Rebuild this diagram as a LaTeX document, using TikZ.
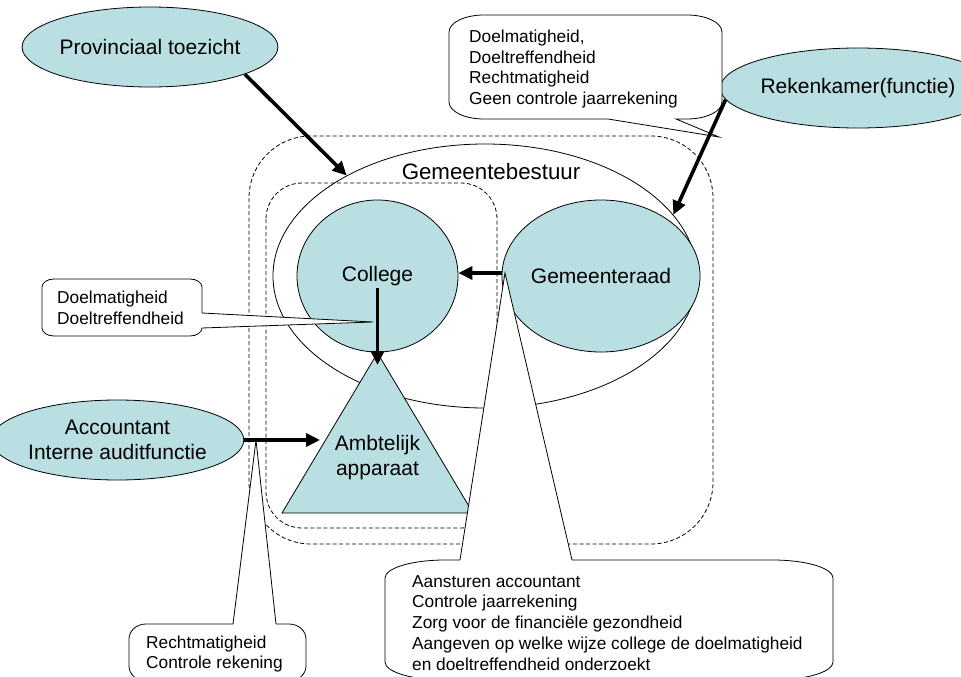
\documentclass[tikz,border=0pt]{standalone}
\usepackage{fontspec}
\setmainfont{Liberation Sans}
\usetikzlibrary{shapes.geometric,arrows.meta}
\definecolor{tealfill}{RGB}{185,223,227}
\tikzset{
  blob/.style={ellipse, draw=black, line width=0.8pt, fill=tealfill, inner sep=0pt,
    font=\fontsize{21}{25}\selectfont, align=center},
  bigtext/.style={font=\fontsize{21}{25}\selectfont, align=center, inner sep=0pt},
  bigarrow/.style={line width=3.6pt, -{Triangle[length=14pt,width=13pt]}},
  dashbox/.style={draw, line width=0.8pt, dash pattern=on 4pt off 2.5pt},
  callout/.style={draw=black, fill=white, line width=0.8pt},
  smalltext/.style={font=\fontsize{17.3}{20.8}\selectfont, align=left, inner sep=0pt, anchor=west},
}
\begin{document}
\begin{tikzpicture}[x=1pt,y=-1pt]
\useasboundingbox (0,0) rectangle (961,677);
\clip (0,0) rectangle (961,677);

% dashed boundaries
\draw[dashbox, rounded corners=62pt] (249,136) rectangle (713,544);
\draw[dashbox, rounded corners=36pt] (266,183) rectangle (497,528);

% Gemeentebestuur
\node[ellipse, draw=black, line width=0.8pt, minimum width=424pt, minimum height=264pt, inner sep=0pt] (gb) at (485,276) {};
\node[bigtext, font=\fontsize{22.3}{26}\selectfont] (gbt) at (491,172) {Gemeentebestuur};

% circles and ellipses
\node[blob, minimum width=161pt, minimum height=152pt] (col) at (377.5,276) {College};
\node[blob, minimum width=160pt, minimum height=152pt] (gr) at (601,276) {Gemeenteraad};
\node[blob, minimum width=216pt, minimum height=80pt] (prov) at (150,47) {Provinciaal toezicht};
\node[blob, minimum width=212pt, minimum height=80pt] (rk) at (858,88) {Rekenkamer(functie)};
\node[blob, minimum width=217pt, minimum height=80pt] (acc) at (117.5,440) {Accountant\\Interne auditfunctie};

% triangle
\draw[fill=tealfill, line width=0.8pt] (282,513) coordinate (tbl) -- (377.5,353) coordinate (tap) -- (473,513) coordinate (tbr) -- cycle;
\node[bigtext] (amb) at (377.5,457.5) {Ambtelijk\\apparaat};

% named coordinates (wedge tips and arrow tips)
\coordinate (tipA) at (719,137);
\coordinate (tipB) at (373,322);
\coordinate (tipC) at (256,440);
\coordinate (tipD) at (505,273);
\coordinate (triTip) at (377.5,365);
\coordinate (accTip) at (320,440);

% callout top
\path[callout] (484,15) -- (687,15) .. controls (706.3,15) and (722,22.6) .. (722,32)
  -- (722,102) .. controls (722,111.4) and (706.3,119) .. (687,119)
  -- (676,119) -- (tipA) -- (608,119)
  -- (484,119) .. controls (464.7,119) and (449,111.4) .. (449,102)
  -- (449,32) .. controls (449,22.6) and (464.7,15) .. (484,15) -- cycle;
\node[smalltext] (ta) at (469,69) {Doelmatigheid,\\Doeltreffendheid\\Rechtmatigheid\\Geen controle jaarrekening};

% callout left
\path[callout] (54,279) -- (190,279) .. controls (196.6,279) and (202,282.6) .. (202,287)
  -- (202,313) -- (tipB) -- (202,328)
  .. controls (202,332.4) and (196.6,336) .. (190,336)
  -- (54,336) .. controls (47.4,336) and (42,332.4) .. (42,328)
  -- (42,287) .. controls (42,282.6) and (47.4,279) .. (54,279) -- cycle;
\node[smalltext] (tb) at (57,308.2) {Doelmatigheid\\Doeltreffendheid};

% callout bottom left
\path[callout] (146,624) -- (233,624) -- (tipC) -- (276,624)
  -- (289,624) .. controls (298.4,624) and (306,630.7) .. (306,639)
  -- (306,666) .. controls (306,674.3) and (298.4,681) .. (289,681)
  -- (146,681) .. controls (136.6,681) and (129,674.3) .. (129,666)
  -- (129,639) .. controls (129,630.7) and (136.6,624) .. (146,624) -- cycle;
\node[smalltext] (tc) at (146,654) {Rechtmatigheid\\Controle rekening};

% callout bottom right
\path[callout] (445,560) -- (460,560) -- (tipD) -- (572,560)
  -- (773,560) .. controls (806.1,560) and (833,568.1) .. (833,578)
  -- (833,662) .. controls (833,671.9) and (806.1,680) .. (773,680)
  -- (445,680) .. controls (411.9,680) and (385,671.9) .. (385,662)
  -- (385,578) .. controls (385,568.1) and (411.9,560) .. (445,560) -- cycle;
\node[smalltext] (td) at (412,622.8) {Aansturen accountant\\Controle jaarrekening\\Zorg voor de financiële gezondheid\\Aangeven op welke wijze college de doelmatigheid\\en doeltreffendheid onderzoekt};

% arrows
\draw[bigarrow] (prov.-16) -- (gb.144);
\draw[bigarrow] (rk.185) -- (gb.18);
\draw[bigarrow] ([yshift=3pt]gr.west) -- ([yshift=3pt]col.east);
\draw[bigarrow] ([yshift=-12pt]col.center) -- (triTip);
\draw[bigarrow] (acc.east) -- (accTip);
\end{tikzpicture}
\end{document}
